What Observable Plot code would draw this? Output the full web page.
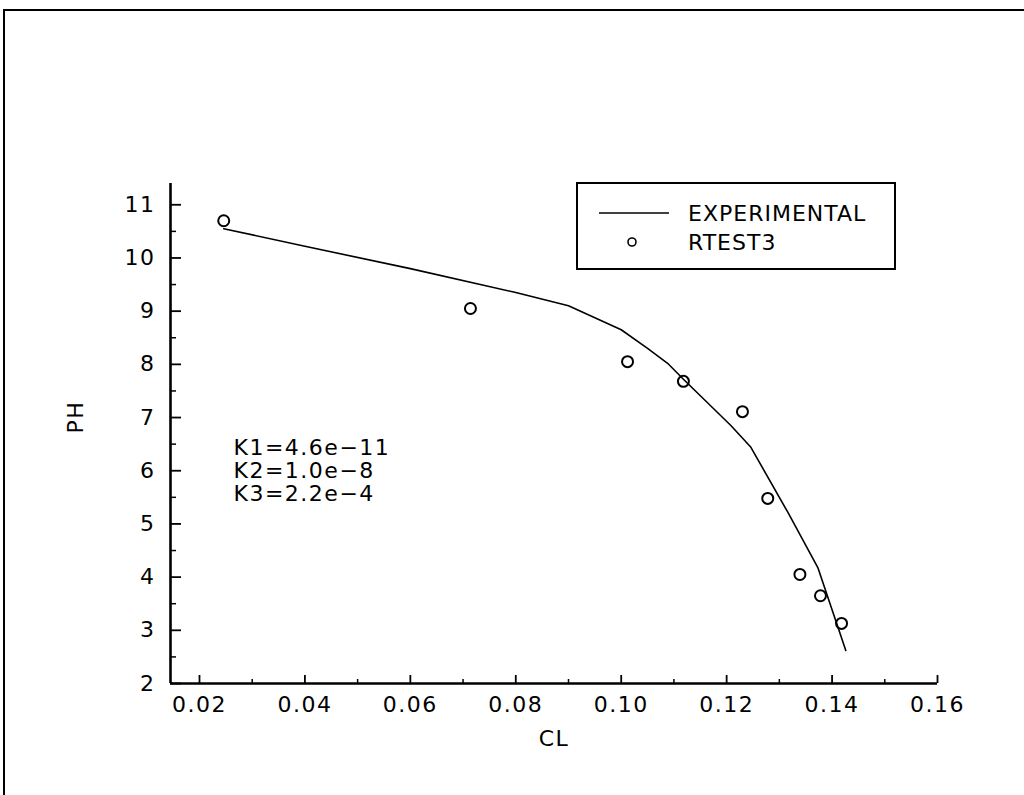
<!DOCTYPE html>
<html>
<head>
<meta charset="utf-8">
<script src="https://cdn.jsdelivr.net/npm/d3@7"></script>
<script src="https://cdn.jsdelivr.net/npm/@observablehq/plot@0.6"></script>
<style>
  html, body { margin: 0; padding: 0; background: #fff; }
  #chart svg { display: block; }
</style>
</head>
<body>
<div id="chart"></div>
<script>
// Measured pH titration curve (EXPERIMENTAL)
const clExp = [0.0246, 0.040, 0.060, 0.080, 0.090, 0.100, 0.105, 0.1088, 0.1118, 0.1208, 0.1246, 0.1316, 0.1373, 0.1426];
const phExp = [10.55, 10.22, 9.80, 9.35, 9.10, 8.65, 8.30, 8.02, 7.72, 6.85, 6.44, 5.22, 4.18, 2.62];

// Model points (RTEST3)
const clCalc = [0.0246, 0.0714, 0.1012, 0.1118, 0.1230, 0.1278, 0.1339, 0.1378, 0.1418];
const phCalc = [10.70, 9.05, 8.05, 7.68, 7.11, 5.48, 4.05, 3.65, 3.13];

// Fitted constants shown on the chart
const constants = ["K1=4.6e\u221211", "K2=1.0e\u22128", "K3=2.2e\u22124"];

// Axis ticks
const xMajor = [0.02, 0.04, 0.06, 0.08, 0.10, 0.12, 0.14, 0.16];
const xMinor = [0.03, 0.05, 0.07, 0.09, 0.11, 0.13, 0.15];
const yMajor = [2, 3, 4, 5, 6, 7, 8, 9, 10, 11];
const yMinor = [2.5, 3.5, 4.5, 5.5, 6.5, 7.5, 8.5, 9.5, 10.5];

const seriesNames = ["EXPERIMENTAL", "RTEST3"];

const xDomain = [0.0145, 0.16];
const yDomain = [2, 11.4];

const font = "DejaVu Sans, Liberation Sans, sans-serif";
const fs = 22;

const expData = clExp.map((c, i) => ({cl: c, ph: phExp[i]}));
const calcData = clCalc.map((c, i) => ({cl: c, ph: phCalc[i]}));

const W = 1024, H = 795;

const svg = Plot.plot({
  width: W,
  height: H,
  marginLeft: 170,
  marginRight: 87,
  marginTop: 183,
  marginBottom: 112,
  style: {fontFamily: font, fontSize: fs + "px", letterSpacing: "1.5px", background: "#fff", color: "#000"},
  x: {domain: xDomain},
  y: {domain: yDomain},
  marks: [
    // tick labels
    Plot.axisX({ticks: xMajor, tickSize: 0, tickPadding: 13, tickFormat: d3.format(".2f"), fontSize: fs, label: null}),
    Plot.axisY({ticks: yMajor, tickSize: 0, tickPadding: 15, tickFormat: d3.format("d"), fontSize: fs, label: null}),
    // inward ticks
    Plot.axisX({ticks: xMajor, tickSize: -8, tickFormat: () => "", strokeWidth: 1.8, label: null}),
    Plot.axisX({ticks: xMinor, tickSize: -4, tickFormat: () => "", strokeWidth: 1.5, label: null}),
    Plot.axisY({ticks: yMajor, tickSize: -11, tickFormat: () => "", strokeWidth: 1.8, label: null}),
    Plot.axisY({ticks: yMinor, tickSize: -6, tickFormat: () => "", strokeWidth: 1.5, label: null}),
    // axis lines
    Plot.ruleX([xDomain[0]], {stroke: "#000", strokeWidth: 2.6}),
    Plot.ruleY([yDomain[0]], {stroke: "#000", strokeWidth: 2.6}),
    // axis titles
    Plot.text(["CL"], {frameAnchor: "bottom", dy: 62, fontSize: fs, text: d => d}),
    Plot.text(["PH"], {frameAnchor: "left", dx: -95, rotate: -90, fontSize: fs, text: d => d}),
    // data
    Plot.line(expData, {x: "cl", y: "ph", stroke: "#000", strokeWidth: 1.6}),
    Plot.dot(calcData, {x: "cl", y: "ph", r: 5.5, stroke: "#000", strokeWidth: 2, fill: "none"}),
    // constants annotation
    Plot.text([constants.join("\n")], {frameAnchor: "left", dx: 63, dy: 37, textAnchor: "start", lineHeight: 1.04, fontSize: fs, letterSpacing: "0.5px", text: d => d})
  ]
});

const root = d3.select(svg);

// Legend box
const lg = root.append("g")
  .attr("font-family", font)
  .attr("font-size", fs)
  .attr("text-anchor", "start")
  .style("letter-spacing", "1px");
lg.append("rect").attr("x", 577).attr("y", 183).attr("width", 318).attr("height", 86)
  .attr("fill", "#fff").attr("stroke", "#000").attr("stroke-width", 2);
lg.append("line").attr("x1", 599).attr("x2", 669).attr("y1", 213).attr("y2", 213)
  .attr("stroke", "#000").attr("stroke-width", 1.6);
lg.append("circle").attr("cx", 632).attr("cy", 242).attr("r", 4)
  .attr("fill", "none").attr("stroke", "#000").attr("stroke-width", 1.6);
lg.selectAll("text.item").data(seriesNames).join("text")
  .attr("class", "item")
  .attr("x", 688).attr("y", (d, i) => 213 + i * 29)
  .attr("dy", "0.36em")
  .attr("text-anchor", "start")
  .text(d => d);

// Page frame (top and left edges)
root.append("line").attr("x1", 4).attr("x2", W).attr("y1", 10).attr("y2", 10)
  .attr("stroke", "#000").attr("stroke-width", 2);
root.append("line").attr("x1", 4).attr("x2", 4).attr("y1", 9).attr("y2", H)
  .attr("stroke", "#000").attr("stroke-width", 2);

document.getElementById("chart").appendChild(svg);
</script>
</body>
</html>
